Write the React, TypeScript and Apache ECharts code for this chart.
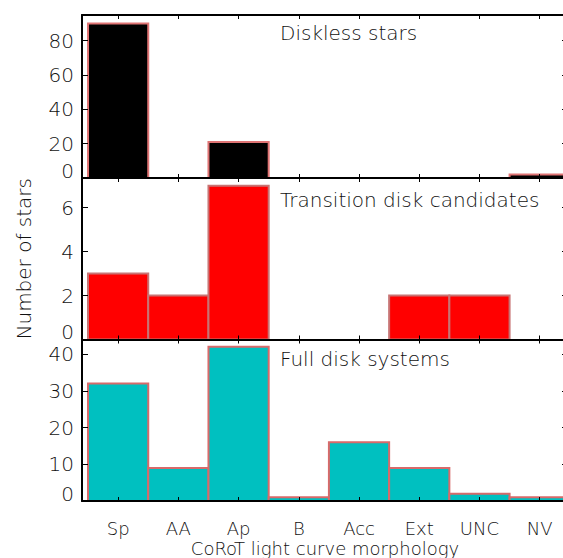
import React, { useEffect, useRef } from "react";
import * as echarts from "echarts";

const CATEGORIES = ["Sp", "AA", "Ap", "B", "Acc", "Ext", "UNC", "NV"];
const DISKLESS = [90, 0, 21, 0, 0, 0, 0, 2];
const TRANSITION = [3, 2, 7, 0, 0, 2, 2, 0];
const FULL_DISK = [32, 9, 42, 1, 16, 9, 2, 1];

const TITLES = ["Diskless stars", "Transition disk candidates", "Full disk systems"];
const Y_TICKS = [
  [20, 40, 60, 80],
  [2, 4, 6],
  [10, 20, 30, 40],
];
const Y_ZERO = [0];
const Y_MAX = [95, 7.35, 44];

const FONT = "DejaVu Sans";
const FW = 200;
const FS = 20;
const FS_X = 18;
const TEXT = "#111";

export default function App() {
  const ref = useRef<HTMLDivElement>(null);
  useEffect(() => {
    if (!ref.current) return;
    const chart = echarts.init(ref.current, undefined, { renderer: "svg" });
    const grids = [
      { left: 82, right: 32, top: 15, height: 163 },
      { left: 82, right: 32, top: 178, height: 161.5 },
      { left: 82, right: 32, top: 339.5, height: 162.5 },
    ];
    const fills = ["#000000", "#ff0000", "#00c0c0"];
    const strokes = ["#e07474", "#c87474", "#d86a6a"];
    const datasets = [DISKLESS, TRANSITION, FULL_DISK];
    const idx = CATEGORIES.map((_, i) => i);
    const textStyle = { fontFamily: FONT, fontWeight: FW, fontSize: FS, color: TEXT };
    const xTextStyle = { fontFamily: FONT, fontWeight: FW, fontSize: FS_X, color: TEXT, lineHeight: 18 };

    const xAxis: any[] = [];
    const yAxis: any[] = [];
    const series: any[] = [];
    grids.forEach((_, g) => {
      const isLast = g === 2;
      xAxis.push({
        type: "value",
        gridIndex: g,
        min: -0.6,
        max: 7.47,
        position: "bottom",
        z: 5,
        axisLine: { show: true, onZero: false, lineStyle: { color: "#000", width: 2 } },
        axisTick: { show: true, inside: true, length: 4, customValues: idx, lineStyle: { color: "#000", width: 1 } },
        axisLabel: {
          show: isLast,
          customValues: idx,
          margin: 18,
          ...xTextStyle,
          formatter: (v: number) => CATEGORIES[Math.round(v)] ?? "",
        },
        splitLine: { show: false },
        name: isLast ? "CoRoT light curve morphology" : "",
        nameLocation: "middle",
        nameGap: 38,
        nameTextStyle: xTextStyle,
      });
      xAxis.push({
        type: "value",
        gridIndex: g,
        min: -0.6,
        max: 7.47,
        position: "top",
        z: 5,
        axisLine: { show: true, onZero: false, lineStyle: { color: "#000", width: 2 } },
        axisTick: { show: true, inside: true, length: 4, customValues: idx, lineStyle: { color: "#000", width: 1 } },
        axisLabel: { show: false },
        splitLine: { show: false },
      });
      yAxis.push({
        type: "value",
        gridIndex: g,
        min: 0,
        max: Y_MAX[g],
        position: "left",
        z: 5,
        axisLine: { show: true, onZero: false, lineStyle: { color: "#000", width: 2 } },
        axisTick: { show: true, inside: true, length: 6, customValues: [0, ...Y_TICKS[g]], lineStyle: { color: "#000", width: 1 } },
        axisLabel: { show: true, customValues: Y_TICKS[g], margin: 8, ...textStyle },
        splitLine: { show: false },
        name: g === 1 ? "Number of stars" : "",
        nameLocation: "middle",
        nameGap: 48,
        nameTextStyle: textStyle,
      });
      yAxis.push({
        type: "value",
        gridIndex: g,
        min: 0,
        max: Y_MAX[g],
        position: "right",
        z: 5,
        axisLine: { show: true, onZero: false, lineStyle: { color: "#000", width: 2 } },
        axisTick: { show: true, inside: true, length: 6, customValues: [0, ...Y_TICKS[g]], lineStyle: { color: "#000", width: 1 } },
        axisLabel: { show: false },
        splitLine: { show: false },
      });
      yAxis.push({
        type: "value",
        gridIndex: g,
        min: 0,
        max: Y_MAX[g],
        position: "left",
        axisLine: { show: false, onZero: false },
        axisTick: { show: false },
        axisLabel: { show: true, customValues: Y_ZERO, margin: 8, verticalAlign: "bottom", lineHeight: 15, ...textStyle },
        splitLine: { show: false },
      });
      const data = datasets[g].map((v, i) => [i, v]);
      series.push({
        type: "custom",
        xAxisIndex: g * 2,
        yAxisIndex: g * 3,
        clip: true,
        z: 2,
        data,
        renderItem: (params: any, api: any) => {
          const i = api.value(0);
          const v = api.value(1);
          if (!v) return null;
          const p0 = api.coord([i - 0.5, v]);
          const p1 = api.coord([i + 0.5, 0]);
          return {
            type: "rect",
            shape: { x: p0[0], y: p0[1], width: p1[0] - p0[0], height: p1[1] - p0[1] },
            style: { fill: fills[g], stroke: strokes[g], lineWidth: 2 },
          };
        },
      });
    });

    const titleTops = [23, 190, 349];
    chart.setOption({
      animation: false,
      backgroundColor: "#fff",
      title: TITLES.map((t, i) => ({
        text: t,
        left: 280,
        top: titleTops[i],
        padding: 0,
        textStyle: { ...textStyle },
      })),
      grid: grids,
      xAxis,
      yAxis,
      series,
    });
    return () => chart.dispose();
  }, []);
  return (
    <div style={{ position: "fixed", left: 0, top: 0, width: 563, height: 558, overflow: "hidden", background: "#fff" }}>
      <div ref={ref} style={{ width: 600, height: 558 }} />
    </div>
  );
}
